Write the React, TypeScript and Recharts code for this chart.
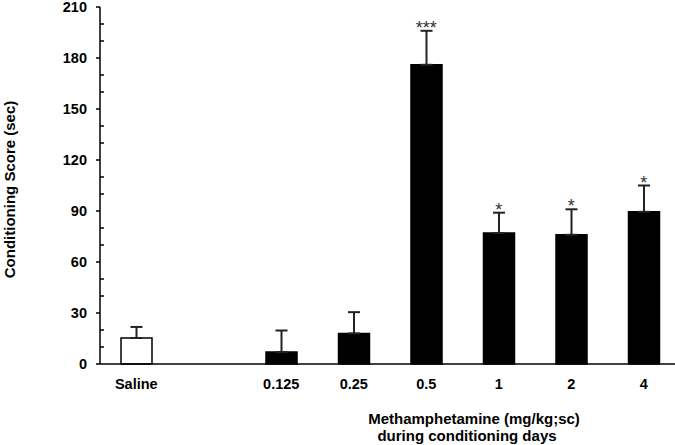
import React from 'react';
import { ComposedChart, Bar, XAxis, YAxis, ErrorBar, Cell, Scatter } from 'recharts';

const categories = ['Saline', '', '0.125', '0.25', '0.5', '1', '2', '4'];
const means: (number | null)[] = [15.3, null, 7, 18, 176, 77, 76, 89.5];
const sems: (number | null)[] = [6.5, null, 12.7, 12.5, 20, 12, 15, 15.5];
const significance = ['', '', '', '', '***', '*', '*', '*'];
const fills = ['#ffffff', '#ffffff', '#000000', '#000000', '#000000', '#000000', '#000000', '#000000'];
const yTicks = [0, 10, 20, 30, 40, 50, 60, 70, 80, 90, 100, 110, 120, 130, 140, 150, 160, 170, 180, 190, 200, 210];
const yTitle = 'Conditioning Score (sec)';
const xTitle1 = 'Methamphetamine (mg/kg;sc)';
const xTitle2 = 'during conditioning days';

const data = categories.map((c, i) => ({
  dose: c,
  mean: means[i],
  err: means[i] == null ? null : [0, sems[i] as number],
  top: significance[i] ? (means[i] as number) + (sems[i] as number) : null,
  sig: significance[i],
}));

const FONT = 'Liberation Sans, Arial, sans-serif';

const YTick = (props: any) => {
  const { x, y, payload } = props;
  const v = payload.value;
  const major = v % 30 === 0;
  return (
    <g>
      {major ? (
        <line x1={x - 4} x2={x} y1={y} y2={y} stroke="#000" strokeWidth={1.5} />
      ) : (
        <line x1={x} x2={x + 4} y1={y} y2={y} stroke="#000" strokeWidth={1.5} />
      )}
      {major && (
        <text x={x - 13} y={y} dy="0.36em" textAnchor="end" fontFamily={FONT} fontWeight="bold" fontSize={14.5} fill="#000">
          {v}
        </text>
      )}
    </g>
  );
};

const StarShape = (props: any) => {
  const { cx, cy, payload } = props;
  if (!payload || !payload.sig || cx == null || cy == null || isNaN(cy)) return null;
  return (
    <text x={cx} y={cy + 3} textAnchor="middle" fontFamily={FONT} fontSize={18} fill="#333">
      {payload.sig}
    </text>
  );
};

const YLabel = (props: any) => {
  const { viewBox } = props;
  const cy = viewBox.y + viewBox.height / 2 + 4;
  return (
    <text x={9} y={cy} transform={`rotate(-90, 9, ${cy})`} textAnchor="middle" dominantBaseline="central" fontFamily={FONT} fontWeight="bold" fontSize={15} fill="#000">
      {yTitle}
    </text>
  );
};

const XLabel = (props: any) => {
  const { viewBox } = props;
  const top = viewBox.y;
  return (
    <g>
      <text x={474} y={top + 60} textAnchor="middle" fontFamily={FONT} fontWeight="bold" fontSize={15} fill="#000">
        {xTitle1}
      </text>
      <text x={467} y={top + 77} textAnchor="middle" fontFamily={FONT} fontWeight="bold" fontSize={15} fill="#000">
        {xTitle2}
      </text>
    </g>
  );
};

export default function App() {
  return (
    <div style={{ position: 'absolute', left: 0, top: 0, width: 675, height: 445, background: '#fff' }}>
      <ComposedChart width={675} height={445} data={data} margin={{ top: 7, right: -5, left: 0, bottom: 0 }}>
        <XAxis
          dataKey="dose"
          interval={0}
          tickLine={false}
          tickSize={0}
          tickMargin={15}
          height={81}
          axisLine={{ stroke: '#000', strokeWidth: 1.5 }}
          tick={{ fontFamily: FONT, fontWeight: 'bold', fontSize: 14.5, fill: '#000' }}
          label={<XLabel />}
        />
        <YAxis
          type="number"
          domain={[0, 210]}
          ticks={yTicks}
          interval={0}
          width={100}
          tickLine={false}
          tickSize={0}
          tickMargin={0}
          axisLine={{ stroke: '#000', strokeWidth: 1.5 }}
          tick={<YTick />}
          label={<YLabel />}
        />
        <Bar dataKey="mean" barSize={31} stroke="#000" strokeWidth={1.5} isAnimationActive={false}>
          {data.map((d, i) => (
            <Cell key={i} fill={fills[i]} />
          ))}
          <ErrorBar dataKey="err" width={6} strokeWidth={2} stroke="#222" direction="y" />
        </Bar>
        <Scatter dataKey="top" shape={<StarShape />} isAnimationActive={false} />
      </ComposedChart>
    </div>
  );
}
